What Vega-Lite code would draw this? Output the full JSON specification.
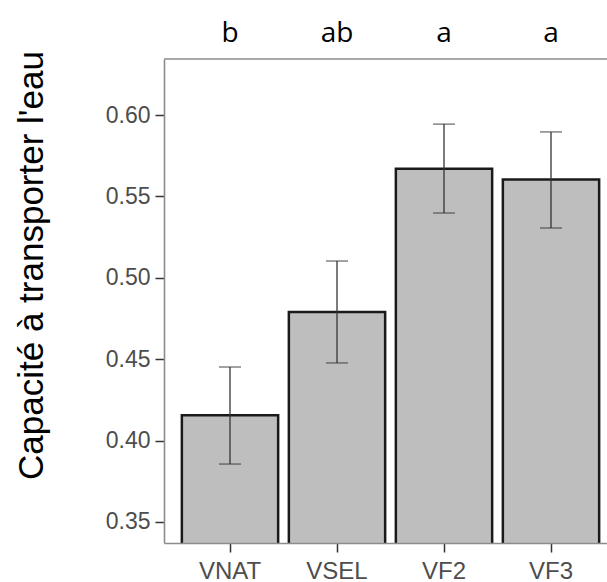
{
  "$schema": "https://vega.github.io/schema/vega-lite/v6.json",
  "width": 443,
  "height": 484,
  "autosize": {"type": "none"},
  "padding": {"left": 164, "top": 59, "right": 0, "bottom": 39},
  "background": "white",
  "view": {"stroke": null},
  "config": {"view": {"stroke": null}, "font": "Liberation Sans"},
  "data": {
    "values": [
      {"groupe": "VNAT", "moyenne": 0.4155, "bas": 0.3856, "haut": 0.4452, "lettre": "b"},
      {"groupe": "VSEL", "moyenne": 0.479, "bas": 0.4477, "haut": 0.5103, "lettre": "ab"},
      {"groupe": "VF2", "moyenne": 0.567, "bas": 0.5398, "haut": 0.5944, "lettre": "a"},
      {"groupe": "VF3", "moyenne": 0.5604, "bas": 0.5306, "haut": 0.5896, "lettre": "a"}
    ]
  },
  "layer": [
    {
      "mark": {"type": "bar", "fill": "#bebebe", "stroke": "#1a1a1a", "strokeWidth": 2.5, "clip": true},
      "encoding": {
        "x": {
          "field": "groupe", "type": "nominal", "sort": ["VNAT", "VSEL", "VF2", "VF3"],
          "scale": {"paddingInner": 0.1, "paddingOuter": 0.1201, "align": 0.6946},
          "axis": {"title": null, "labelAngle": 0, "labelFontSize": 24, "labelColor": "#4d4d4d", "tickSize": 9, "tickColor": "#333333", "tickWidth": 1.5, "labelPadding": 7, "domainColor": "#8c8c8c", "domainWidth": 1.6, "zindex": 1}
        },
        "y": {
          "field": "moyenne", "type": "quantitative",
          "scale": {"domain": [0.3371, 0.6344], "nice": false, "zero": false},
          "axis": {
            "title": "Capacité à transporter l'eau", "titleFontSize": 35, "titleFont": "Liberation Sans", "titleFontWeight": "normal", "titleColor": "black",
            "titleX": -122, "titleY": 206, "titleAngle": -90, "titleAlign": "center", "titleBaseline": "alphabetic",
            "values": [0.35, 0.4, 0.45, 0.5, 0.55, 0.6], "format": ".2f",
            "labelFontSize": 23, "labelColor": "#4d4d4d", "tickSize": 9, "tickColor": "#333333", "tickWidth": 1.5, "labelPadding": 5,
            "domainColor": "#8c8c8c", "domainWidth": 1.6, "grid": false
          }
        }
      }
    },
    {
      "mark": {"type": "rule", "color": "#333333", "strokeWidth": 1.3, "clip": false},
      "encoding": {
        "x": {"field": "groupe", "type": "nominal", "sort": ["VNAT", "VSEL", "VF2", "VF3"]},
        "y": {"field": "bas", "type": "quantitative"},
        "y2": {"field": "haut"}
      }
    },
    {
      "mark": {"type": "tick", "color": "#333333", "thickness": 1.3, "size": 22, "clip": false},
      "encoding": {
        "x": {"field": "groupe", "type": "nominal", "sort": ["VNAT", "VSEL", "VF2", "VF3"]},
        "y": {"field": "bas", "type": "quantitative"}
      }
    },
    {
      "mark": {"type": "tick", "color": "#333333", "thickness": 1.3, "size": 22, "clip": false},
      "encoding": {
        "x": {"field": "groupe", "type": "nominal", "sort": ["VNAT", "VSEL", "VF2", "VF3"]},
        "y": {"field": "haut", "type": "quantitative"}
      }
    },
    {
      "mark": {"type": "text", "font": "Open Sans", "fontSize": 28, "fontWeight": "normal", "baseline": "alphabetic", "color": "#000000", "clip": false},
      "encoding": {
        "x": {"field": "groupe", "type": "nominal", "sort": ["VNAT", "VSEL", "VF2", "VF3"]},
        "y": {"datum": 0.6448},
        "text": {"field": "lettre"}
      }
    },
    {
      "data": {"values": [{}]},
      "mark": {"type": "rule", "color": "#8c8c8c", "strokeWidth": 1.6, "clip": false},
      "encoding": {"y": {"datum": 0.6344}}
    }
  ]
}
